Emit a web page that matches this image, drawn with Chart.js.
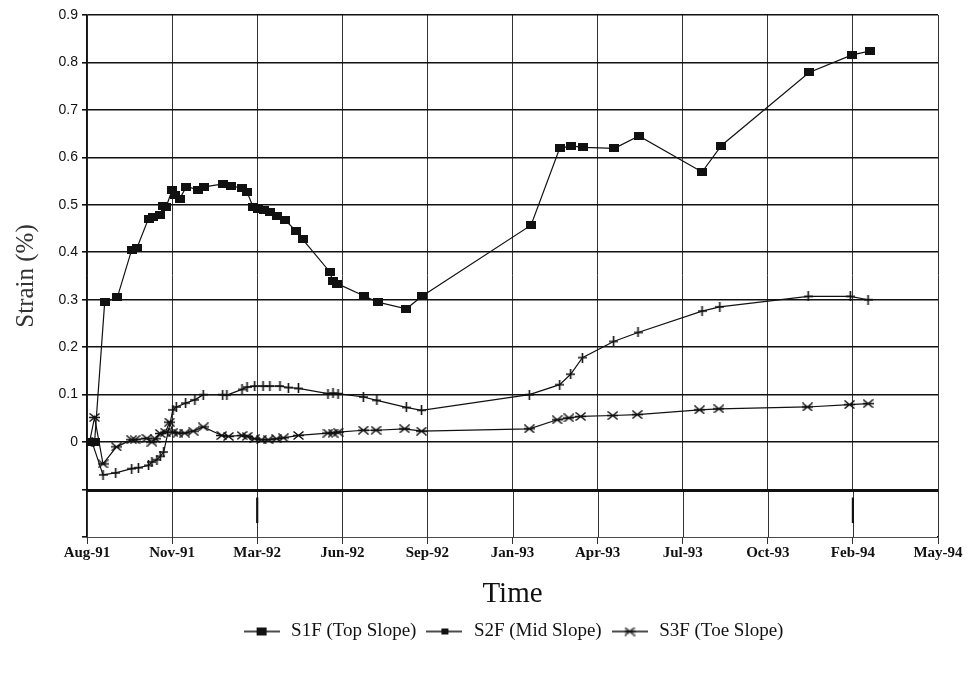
<!DOCTYPE html>
<html lang="en">
<head>
  <meta charset="UTF-8" />
  <title>Strain vs Time</title>
  <script src="https://cdn.jsdelivr.net/npm/chart.js"></script>
  <style>
    body { margin:0; background:#fff; }
    #chart { display:block; }
  </style>
</head>
<body>
  <canvas id="chart" width="968" height="679"></canvas>

  <script>
    // x values are days counted from the Aug-91 tick; axis ticks are 101 days apart
    const tickLabels = ['Aug-91','Nov-91','Mar-92','Jun-92','Sep-92','Jan-93','Apr-93','Jul-93','Oct-93','Feb-94','May-94'];
    const tickStepDays = 101;
    const boxMarks = ['Mar-92', 'Feb-94'];
    const legendLabels = ['S1F (Top Slope)', 'S2F (Mid Slope)', 'S3F (Toe Slope)'];

    const s1fDays   = [4, 9, 21, 36, 53, 59, 73, 78, 87, 90, 94, 101, 104, 110, 118, 132, 139, 162, 171, 184, 190, 197, 203, 210, 217, 225, 235, 248, 256, 288, 292, 297, 329, 345, 379, 398, 527, 561, 575, 589, 626, 655, 730, 753, 857, 908, 929];
    const s1fStrain = [0, 0, 0.295, 0.305, 0.405, 0.408, 0.471, 0.475, 0.478, 0.497, 0.496, 0.531, 0.52, 0.513, 0.538, 0.532, 0.538, 0.544, 0.54, 0.535, 0.527, 0.496, 0.492, 0.49, 0.485, 0.477, 0.468, 0.445, 0.427, 0.359, 0.339, 0.334, 0.308, 0.295, 0.281, 0.308, 0.457, 0.619, 0.624, 0.621, 0.619, 0.645, 0.569, 0.625, 0.779, 0.816, 0.824];

    const s2fDays   = [6, 19, 34, 53, 61, 73, 77, 83, 87, 91, 102, 106, 117, 128, 138, 161, 166, 184, 190, 199, 209, 217, 229, 239, 251, 286, 292, 298, 328, 344, 379, 397, 525, 561, 574, 588, 625, 654, 730, 751, 856, 906, 927];
    const s2fStrain = [0, -0.069, -0.065, -0.056, -0.054, -0.049, -0.042, -0.037, -0.03, -0.021, 0.068, 0.074, 0.082, 0.089, 0.1, 0.1, 0.099, 0.111, 0.116, 0.118, 0.118, 0.118, 0.118, 0.115, 0.113, 0.102, 0.103, 0.102, 0.095, 0.088, 0.073, 0.067, 0.1, 0.121, 0.143, 0.178, 0.212, 0.231, 0.276, 0.285, 0.307, 0.307, 0.3];

    const s3fDays   = [3, 9, 19, 35, 53, 57, 71, 77, 81, 87, 93, 98, 102, 108, 116, 126, 138, 160, 168, 184, 190, 199, 207, 215, 225, 233, 251, 286, 292, 298, 328, 343, 377, 397, 525, 558, 572, 586, 624, 653, 727, 750, 855, 905, 927];
    const s3fStrain = [0, 0.052, -0.046, -0.01, 0.005, 0.005, 0.008, 0, 0.007, 0.018, 0.021, 0.042, 0.021, 0.019, 0.019, 0.023, 0.032, 0.014, 0.012, 0.014, 0.012, 0.007, 0.005, 0.005, 0.007, 0.009, 0.014, 0.019, 0.019, 0.021, 0.025, 0.025, 0.028, 0.023, 0.028, 0.047, 0.051, 0.054, 0.056, 0.058, 0.068, 0.07, 0.074, 0.079, 0.081];

    const ink = '#111';

    function toPoints(days, vals) {
      return days.map((d, i) => ({ x: d, y: vals[i] }));
    }

    // marker images
    function squareMarker(w, h) {
      const c = document.createElement('canvas');
      c.width = w; c.height = h;
      const g = c.getContext('2d');
      g.fillStyle = ink;
      g.fillRect(0, 0, w, h);
      return c;
    }
    function asteriskMarker(w, h) {
      const c = document.createElement('canvas');
      c.width = w; c.height = h;
      const g = c.getContext('2d');
      g.strokeStyle = ink;
      g.lineWidth = 1.4;
      g.beginPath();
      g.moveTo(0.5, 0.5); g.lineTo(w - 0.5, h - 0.5);
      g.moveTo(w - 0.5, 0.5); g.lineTo(0.5, h - 0.5);
      g.moveTo(0, h / 2); g.lineTo(w, h / 2);
      g.stroke();
      return c;
    }
    function crossMarker(w, h) {
      const c = document.createElement('canvas');
      c.width = w; c.height = h;
      const g = c.getContext('2d');
      g.strokeStyle = ink;
      g.lineWidth = 1.6;
      g.beginPath();
      g.moveTo(w / 2, 0); g.lineTo(w / 2, h);
      g.moveTo(0, h / 2); g.lineTo(w, h / 2);
      g.stroke();
      return c;
    }
    function legendIcon(marker) {
      const c = document.createElement('canvas');
      c.width = 36; c.height = 12;
      const g = c.getContext('2d');
      g.strokeStyle = ink;
      g.lineWidth = 1.4;
      g.beginPath();
      g.moveTo(0, 6); g.lineTo(36, 6);
      g.stroke();
      g.drawImage(marker, 18 - marker.width / 2, 6 - marker.height / 2);
      return c;
    }

    const s1fMark = squareMarker(10, 8);
    const s2fMark = crossMarker(9, 10);
    const s3fMark = asteriskMarker(11, 9);
    const legendIcons = [legendIcon(s1fMark), legendIcon(squareMarker(7, 6)), legendIcon(s3fMark)];

    // white strip with short marks between -0.1 and -0.2
    const lowerBox = {
      id: 'lowerBox',
      afterDatasetsDraw(chart) {
        const { ctx, chartArea } = chart;
        const xs = chart.scales.x, ys = chart.scales.y;
        const top = ys.getPixelForValue(-0.1) + 1;
        const bottom = ys.getPixelForValue(-0.2);
        ctx.save();
        ctx.fillStyle = '#fff';
        ctx.fillRect(chartArea.left + 1, top, chartArea.right - chartArea.left - 2, bottom - top);
        ctx.strokeStyle = '#333';
        ctx.lineWidth = 1;
        tickLabels.forEach((l, i) => {
          const x = Math.round(xs.getPixelForValue(i * tickStepDays)) + 0.5;
          ctx.beginPath(); ctx.moveTo(x, top); ctx.lineTo(x, bottom); ctx.stroke();
        });
        ctx.strokeStyle = ink;
        ctx.lineWidth = 3;
        ctx.beginPath(); ctx.moveTo(chartArea.left, top); ctx.lineTo(chartArea.right, top); ctx.stroke();
        ctx.lineWidth = 2.2;
        boxMarks.forEach(l => {
          const x = xs.getPixelForValue(tickLabels.indexOf(l) * tickStepDays);
          const h = bottom - top;
          ctx.beginPath(); ctx.moveTo(x, top + h * 0.15); ctx.lineTo(x, top + h * 0.7); ctx.stroke();
        });
        ctx.restore();
      }
    };

    new Chart(document.getElementById('chart'), {
      type: 'line',
      data: {
        datasets: [
          { label: legendLabels[0], data: toPoints(s1fDays, s1fStrain), pointStyle: s1fMark },
          { label: legendLabels[1], data: toPoints(s2fDays, s2fStrain), pointStyle: s2fMark },
          { label: legendLabels[2], data: toPoints(s3fDays, s3fStrain), pointStyle: s3fMark }
        ].map(ds => Object.assign(ds, {
          borderColor: ink, backgroundColor: ink, borderWidth: 1.2, tension: 0, fill: false,
          pointRadius: 5, pointHoverRadius: 5
        }))
      },
      options: {
        responsive: false,
        devicePixelRatio: 1,
        animation: false,
        events: [],
        layout: { padding: { top: 15, right: 30, left: 0, bottom: 28 } },
        scales: {
          x: {
            type: 'linear',
            min: 0,
            max: tickStepDays * (tickLabels.length - 1),
            afterBuildTicks: s => { s.ticks = tickLabels.map((l, i) => ({ value: i * tickStepDays })); },
            afterFit: s => { s.height = 77; },
            ticks: {
              autoSkip: false, maxRotation: 0, padding: 0, color: ink,
              font: { family: 'Liberation Serif', size: 15, weight: 'bold' },
              callback: v => tickLabels[Math.round(v / tickStepDays)]
            },
            grid: { color: '#333', lineWidth: 1, tickLength: 7 },
            border: { color: ink, width: 1.5 },
            title: { display: true, text: 'Time', color: ink, padding: { top: 0, bottom: 2 },
                     font: { family: 'Liberation Serif', size: 29 } }
          },
          y: {
            min: -0.2,
            max: 0.9,
            afterFit: s => { s.width = 87; },
            ticks: {
              stepSize: 0.1, padding: 4, color: ink,
              font: { family: 'Liberation Sans', size: 14 },
              callback: v => v < -0.001 ? '' : (Math.abs(v) < 1e-9 ? '0' : v.toFixed(1))
            },
            grid: { color: ink, lineWidth: 1.6, tickLength: 5 },
            border: { color: ink, width: 1.5 },
            title: { display: true, text: 'Strain (%)', color: '#333', padding: { top: 11, bottom: 0 },
                     font: { family: 'Liberation Serif', size: 25 } }
          }
        },
        plugins: {
          tooltip: { enabled: false },
          legend: {
            position: 'bottom',
            fullSize: false,
            labels: {
              usePointStyle: true,
              pointStyleWidth: 40,
              boxHeight: 12,
              padding: 8,
              color: ink,
              font: { family: 'Liberation Serif', size: 19 },
              generateLabels: chart => chart.data.datasets.map((ds, i) => ({
                text: ds.label, pointStyle: legendIcons[i], fillStyle: ink, strokeStyle: ink,
                lineWidth: 0, hidden: false, datasetIndex: i, fontColor: ink
              }))
            }
          }
        }
      },
      plugins: [lowerBox]
    });
  </script>
</body>
</html>
